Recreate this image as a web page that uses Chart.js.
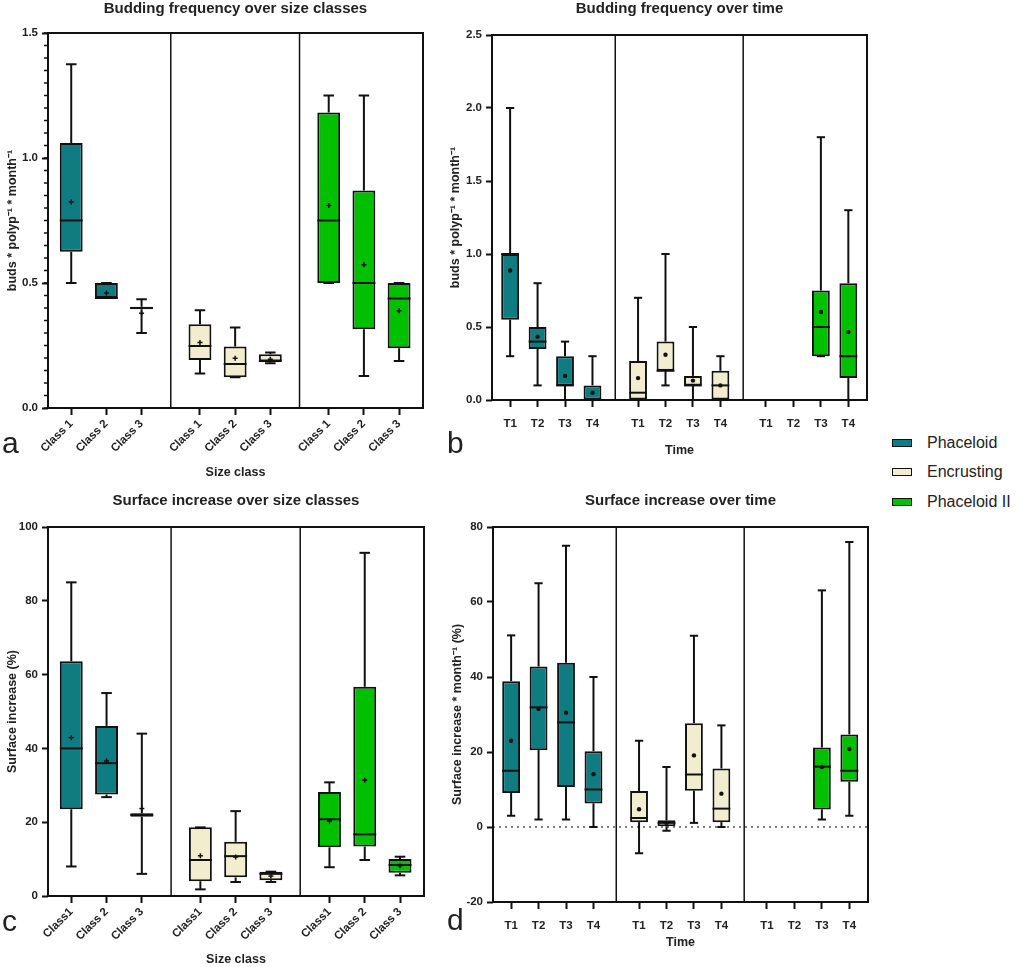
<!DOCTYPE html>
<html>
<head>
<meta charset="utf-8">
<script src="https://cdn.jsdelivr.net/npm/chart.js@4.4.1/dist/chart.umd.min.js"></script>
<style>
  body { margin:0; background:#fff; width:1024px; height:967px; position:relative; overflow:hidden; font-family:"Liberation Sans", Arial, sans-serif; }
  canvas { position:absolute; }
  .letter { position:absolute; font-size:30px; line-height:1; color:#222; }
  .legend { position:absolute; left:892px; top:428px; font-size:16px; color:#222; }
  .legend div { height:29.5px; display:flex; align-items:center; }
  .legend .sw { display:inline-block; width:18px; height:6px; border:1.5px solid #111; margin-right:15px; }
</style>
</head>
<body>
<canvas id="chartA" width="440" height="480" style="left:0;top:0"></canvas>
<canvas id="chartB" width="440" height="480" style="left:440px;top:0"></canvas>
<canvas id="chartC" width="440" height="487" style="left:0;top:480px"></canvas>
<canvas id="chartD" width="440" height="487" style="left:440px;top:480px"></canvas>

<div class="letter" style="left:2px;top:428px">a</div>
<div class="letter" style="left:447px;top:428px">b</div>
<div class="letter" style="left:2px;top:906px">c</div>
<div class="letter" style="left:447px;top:905px">d</div>

<div class="legend">
  <div><span class="sw" style="background:#0e7c80"></span>Phaceloid</div>
  <div><span class="sw" style="background:#f3edd0"></span>Encrusting</div>
  <div><span class="sw" style="background:#00c000"></span>Phaceloid II</div>
</div>

<script>
//------------------------------------------------------------------------------
// 資料：三種形態、分類標籤
const morphs = ['Phaceloid', 'Encrusting', 'Phaceloid II'];
const morphColors = ['#0e7c80', '#f3edd0', '#00c000'];
const sizeLabels = ['Class 1', 'Class 2', 'Class 3'];
const sizeLabelsC = ['Class1', 'Class 2', 'Class 3'];
const timeLabels = ['T1', 'T2', 'T3', 'T4'];

// 每個箱型: [min, q1, median, q3, max]
// a: Budding frequency over size classes
const budSizePhaceloid  = [[0.50, 0.625, 0.75, 1.06, 1.375], [0.44, 0.44, 0.44, 0.50, 0.50], [0.30, 0.395, 0.40, 0.405, 0.435]];
const budSizeEncrusting = [[0.138, 0.192, 0.248, 0.335, 0.391], [0.123, 0.123, 0.176, 0.246, 0.322], [0.179, 0.183, 0.19, 0.215, 0.222]];
const budSizePhaceloid2 = [[0.50, 0.50, 0.75, 1.182, 1.25], [0.128, 0.315, 0.50, 0.87, 1.25], [0.188, 0.239, 0.438, 0.50, 0.50]];
const budSizeMeans = [[0.824, 0.46, 0.379], [0.262, 0.199, 0.195], [0.81, 0.573, 0.389]];

// b: Budding frequency over time
const budTimePhaceloid  = [[0.30, 0.55, 1.0, 1.0, 2.0], [0.10, 0.35, 0.40, 0.50, 0.80], [0, 0.10, 0.10, 0.30, 0.40], [0, 0, 0, 0.10, 0.30]];
const budTimeEncrusting = [[0, 0, 0.05, 0.267, 0.70], [0.10, 0.20, 0.20, 0.40, 1.0], [0, 0.10, 0.10, 0.165, 0.50], [0, 0, 0.10, 0.20, 0.30]];
const budTimePhaceloid2 = [null, null, [0.30, 0.30, 0.50, 0.75, 1.80], [0, 0.15, 0.30, 0.80, 1.30]];
const budTimeMeans = [[0.887, 0.434, 0.165, 0.05], [0.15, 0.31, 0.133, 0.10], [null, null, 0.603, 0.465]];

// c: Surface increase over size classes
const surfSizePhaceloid  = [[8, 23.5, 40, 63.6, 85], [26.8, 27.5, 36, 46.1, 55], [6, 21.5, 22, 22.4, 44]];
const surfSizeEncrusting = [[1.8, 4, 9.75, 18.6, 18.6], [3.8, 5.05, 10.8, 14.7, 23], [3.8, 4.3, 6, 6.6, 6.6]];
const surfSizePhaceloid2 = [[7.8, 13.2, 20.8, 28.2, 30.8], [9.75, 13.4, 16.7, 56.7, 93], [5.6, 6.3, 8.4, 10, 10.65]];
const surfSizeMeans = [[42.9, 36.6, 23.7], [10.9, 10.56, 5.4], [20.3, 31.4, 8.2]];

// d: Surface increase over time
const surfTimePhaceloid  = [[3, 9.1, 15, 38.9, 51.1], [2, 20.5, 31.9, 42.8, 65], [2, 10.7, 27.9, 43.8, 75], [0, 6.3, 10, 20.2, 40]];
const surfTimeEncrusting = [[-7, 1.3, 2.4, 9.6, 23], [-1, 0.2, 1.1, 1.8, 16], [1.1, 9.7, 14, 27.7, 51], [0, 1.3, 4.9, 15.6, 27.1]];
const surfTimePhaceloid2 = [null, null, [2, 4.7, 16.1, 21.2, 63.1], [3, 12.1, 15, 24.7, 76]];
const surfTimeMeans = [[23, 31.5, 30.5, 14.1], [4.75, 1.1, 19.1, 8.9], [null, null, 16, 20.8]];

//------------------------------------------------------------------------------
Chart.defaults.font.family = "'Liberation Sans', Arial, sans-serif";
Chart.defaults.color = '#222';

const GROUP_GAP = 0.66;   // 組與組之間多留的空間 (以類別寬為單位)
const CAP = 0.15;         // 鬚線端點的半寬

// 箱型圖的鬚線、中位數、平均值與外框
const boxExtras = {
  id: 'boxExtras',
  beforeDatasetsDraw(chart) {
    const o = chart.options.plugins.boxExtras;
    if (!o.zeroLine) return;
    const ctx = chart.ctx, a = chart.chartArea;
    const y0 = chart.scales.y.getPixelForValue(0);
    ctx.save();
    ctx.strokeStyle = '#555';
    ctx.lineWidth = 1.5;
    ctx.setLineDash([2, 4]);
    ctx.beginPath(); ctx.moveTo(a.left, y0); ctx.lineTo(a.right, y0); ctx.stroke();
    ctx.restore();
  },
  afterDatasetsDraw(chart) {
    const o = chart.options.plugins.boxExtras;
    const ctx = chart.ctx, xs = chart.scales.x, ys = chart.scales.y, a = chart.chartArea;
    const meta = chart.getDatasetMeta(0);
    const line = function(x1, y1, x2, y2) { ctx.beginPath(); ctx.moveTo(x1, y1); ctx.lineTo(x2, y2); ctx.stroke(); };
    ctx.save();
    ctx.strokeStyle = '#111';
    ctx.fillStyle = '#111';
    ctx.lineWidth = 2;
    chart.data.datasets[0].data.forEach(function(p, i) {
      const bar = meta.data[i];
      const cx = xs.getPixelForValue(p.x);
      const half = (xs.getPixelForValue(p.x + CAP) - xs.getPixelForValue(p.x - CAP)) / 2;
      const yMin = ys.getPixelForValue(p.min), yQ1 = ys.getPixelForValue(p.y[0]);
      const yQ3 = ys.getPixelForValue(p.y[1]), yMax = ys.getPixelForValue(p.max);
      // 鬚線
      line(cx, yMin, cx, yQ1);
      line(cx, yQ3, cx, yMax);
      line(cx - half, yMin, cx + half, yMin);
      line(cx - half, yMax, cx + half, yMax);
      // 中位數
      const ym = ys.getPixelForValue(p.med);
      line(bar.x - bar.width / 2, ym, bar.x + bar.width / 2, ym);
      // 平均值
      if (p.mean !== null) {
        const yv = ys.getPixelForValue(p.mean);
        if (o.meanStyle === 'cross') {
          ctx.lineWidth = 1.5;
          line(cx - 2.5, yv, cx + 2.5, yv);
          line(cx, yv - 2.5, cx, yv + 2.5);
          ctx.lineWidth = 2;
        } else {
          ctx.beginPath(); ctx.arc(cx, yv, 2.2, 0, Math.PI * 2); ctx.fill();
        }
      }
    });
    // 次刻度 (只有 a 圖)
    if (o.minorStep) {
      ctx.lineWidth = 1.5;
      for (let v = ys.min; v <= ys.max + 1e-9; v += o.minorStep) {
        const yp = ys.getPixelForValue(v);
        line(a.left - 4, yp, a.left, yp);
      }
    }
    // 外框與分隔線
    ctx.lineWidth = 2;
    ctx.strokeRect(a.left, a.top, a.right - a.left, a.bottom - a.top);
    ctx.lineWidth = 1.5;
    o.dividers.forEach(function(v) {
      const xp = xs.getPixelForValue(v);
      line(xp, a.top, xp, a.bottom);
    });
    ctx.restore();
  }
};

function makePanel(canvasId, p) {
  const n = p.labels.length;
  const points = [];
  const colors = [];
  const tickPos = [];
  const tickText = [];
  p.groups.forEach(function(stats, g) {
    stats.forEach(function(s, i) {
      const xv = g * (n + GROUP_GAP) + i;
      tickPos.push(xv);
      tickText.push(p.labels[i]);
      if (!s) return;
      points.push({ x: xv, y: [s[1], s[3]], min: s[0], med: s[2], max: s[4], mean: p.means[g][i] });
      colors.push(morphColors[g]);
    });
  });
  const dividers = [1, 2].map(g => g * (n + GROUP_GAP) - (1 + GROUP_GAP) / 2);
  const tickFont = { size: 11.5, weight: 'bold' };
  const titleFont = { size: 12.5, weight: 'bold' };

  return new Chart(document.getElementById(canvasId).getContext('2d'), {
    type: 'bar',
    data: {
      datasets: [{
        label: morphs.join(' / '),
        data: points,
        backgroundColor: colors,
        borderColor: '#111',
        borderWidth: 2,
        borderSkipped: false,
        categoryPercentage: 1,
        barPercentage: 0.65
      }]
    },
    plugins: [boxExtras],
    options: {
      responsive: false,
      animation: false,
      layout: { padding: { left: 0, right: p.rightPad, top: 0, bottom: 0 } },
      plugins: {
        legend: { display: false },
        tooltip: { enabled: false },
        title: {
          display: true, text: p.title, fullSize: false, color: '#222',
          font: { size: 15, weight: 'bold', lineHeight: 1.2 },
          padding: { top: p.titleTop, bottom: p.titleBottom }
        },
        boxExtras: { dividers: dividers, zeroLine: !!p.zeroLine, meanStyle: p.meanStyle, minorStep: p.minorStep || 0 }
      },
      scales: {
        x: {
          type: 'linear',
          offset: false,
          min: -0.66,
          max: 2 * (n + GROUP_GAP) + n - 1 + 0.68,
          afterBuildTicks: s => { s.ticks = tickPos.map(v => ({ value: v })); },
          afterFit: s => { s.height = p.xHeight; },
          ticks: {
            autoSkip: false, color: '#222', font: tickFont, padding: p.xTickPad,
            minRotation: p.rotate, maxRotation: p.rotate,
            callback: (v, i) => tickText[i]
          },
          grid: { offset: false, drawOnChartArea: false, tickLength: 7, tickWidth: 2, tickColor: '#111' },
          border: { display: false },
          title: { display: true, text: p.xTitle, color: '#222', font: titleFont, padding: { top: 0, bottom: p.xTitlePad } }
        },
        y: {
          min: p.yMin,
          max: p.yMax,
          afterFit: s => { s.width = p.yWidth; },
          ticks: {
            stepSize: p.yStep, autoSkip: false, color: '#222', font: tickFont, padding: 4,
            callback: p.yFormat
          },
          grid: { drawOnChartArea: false, tickLength: 6, tickWidth: 2, tickColor: '#111' },
          border: { display: false },
          title: { display: true, text: p.yTitle, color: '#222', font: titleFont, padding: { top: p.yTitlePad, bottom: 0 } }
        }
      }
    }
  });
}

//------------------------------------------------------------------------------
// a: 出芽頻率 vs 體型大小
const chartA = makePanel('chartA', {
  groups: [budSizePhaceloid, budSizeEncrusting, budSizePhaceloid2],
  means: budSizeMeans,
  labels: sizeLabels,
  title: 'Budding frequency over size classes',
  xTitle: 'Size class',
  yTitle: 'buds * polyp\u207B\u00B9 * month\u207B\u00B9',
  yMin: 0, yMax: 1.5, yStep: 0.5, minorStep: 0.05,
  yFormat: v => v.toFixed(1),
  rotate: 45, meanStyle: 'cross',
  yWidth: 48, xHeight: 72, rightPad: 17,
  titleTop: 0, titleBottom: 15, xTitlePad: 0, yTitlePad: 5, xTickPad: 2
});

// b: 出芽頻率 vs 時間
const chartB = makePanel('chartB', {
  groups: [budTimePhaceloid, budTimeEncrusting, budTimePhaceloid2],
  means: budTimeMeans,
  labels: timeLabels,
  title: 'Budding frequency over time',
  xTitle: 'Time',
  yTitle: 'buds * polyp\u207B\u00B9 * month\u207B\u00B9',
  yMin: 0, yMax: 2.5, yStep: 0.5,
  yFormat: v => v.toFixed(1),
  rotate: 0, meanStyle: 'dot',
  yWidth: 52, xHeight: 80, rightPad: 13,
  titleTop: 0, titleBottom: 17, xTitlePad: 22, yTitlePad: 8, xTickPad: 10
});

// c: 表面積增加 vs 體型大小
const chartC = makePanel('chartC', {
  groups: [surfSizePhaceloid, surfSizeEncrusting, surfSizePhaceloid2],
  means: surfSizeMeans,
  labels: sizeLabelsC,
  title: 'Surface increase over size classes',
  xTitle: 'Size class',
  yTitle: 'Surface increase (%)',
  yMin: 0, yMax: 100, yStep: 20,
  yFormat: v => v,
  rotate: 45, meanStyle: 'cross',
  yWidth: 48, xHeight: 71, rightPad: 16,
  titleTop: 12, titleBottom: 17, xTitlePad: 0, yTitlePad: 5, xTickPad: 2
});

// d: 表面積增加 vs 時間
const chartD = makePanel('chartD', {
  groups: [surfTimePhaceloid, surfTimeEncrusting, surfTimePhaceloid2],
  means: surfTimeMeans,
  labels: timeLabels,
  title: 'Surface increase over time',
  xTitle: 'Time',
  yTitle: 'Surface increase * month\u207B\u00B9 (%)',
  yMin: -20, yMax: 80, yStep: 20,
  yFormat: v => v,
  rotate: 0, meanStyle: 'dot', zeroLine: true,
  yWidth: 53, xHeight: 65, rightPad: 12,
  titleTop: 12, titleBottom: 17, xTitlePad: 17, yTitlePad: 10, xTickPad: 10
});
</script>
</body>
</html>
